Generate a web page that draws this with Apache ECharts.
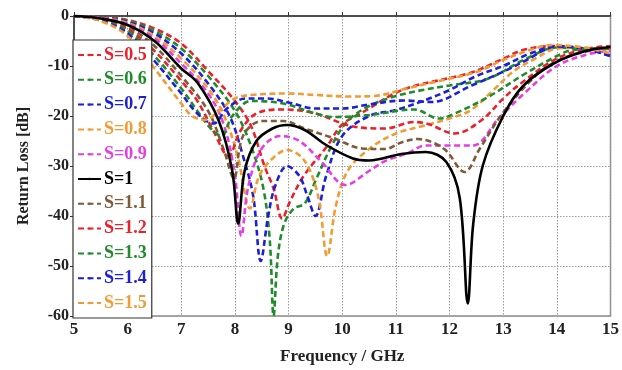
<!DOCTYPE html>
<html>
<head>
<meta charset="utf-8">
<script src="https://cdn.jsdelivr.net/npm/echarts@6/dist/echarts.min.js"></script>
<style>
  html, body { margin: 0; padding: 0; background: #fff; }
  #chart { width: 622px; height: 370px; }
</style>
</head>
<body>
<div id="chart"></div>
<script>
// x axis (GHz) and y axis (dB) ticks
const xTicks = [5, 15, 1];
const yTicks = [-60, 0, 10];

const seriesNames = ["S=0.5", "S=0.6", "S=0.7", "S=0.8", "S=0.9", "S=1", "S=1.1", "S=1.2", "S=1.3", "S=1.4", "S=1.5"];
const seriesColors = ["#e8212b", "#1e8c2a", "#1c1fd8", "#f39a32", "#e43fe0", "#000000", "#7d5b38", "#e8212b", "#1e8c2a", "#1c1fd8", "#f39a32"];

// [frequency GHz, return loss dB]
const s05 = [[5,0],[5.5,-0.2],[6,-0.8],[6.5,-2.5],[7,-5.5],[7.5,-11],[8,-17],[8.3,-22],[8.55,-30],[8.72,-34.5],[8.88,-40.5],[9.03,-37],[9.28,-32],[9.72,-26],[10,-21.7],[10.47,-18.7],[10.97,-15.5],[11.34,-14],[11.78,-12.9],[12.41,-11.3],[13.03,-8.4],[13.4,-6.7],[14,-6],[14.6,-6.5],[15,-6.1]];
const s06 = [[5,0],[5.5,-0.25],[6,-1],[6.5,-3],[7,-6.5],[7.5,-12],[8,-19],[8.3,-26],[8.53,-34.5],[8.65,-45],[8.72,-60],[8.8,-48],[8.92,-41.5],[9.1,-38.5],[9.3,-37.5],[9.5,-33],[9.8,-26],[10.1,-21],[10.5,-18],[11,-16],[11.5,-14.8],[12,-13.9],[12.7,-12.6],[13.4,-8.7],[14,-6.3],[14.5,-6.5],[15,-6.5]];
const s07 = [[5,0],[5.5,-0.3],[6,-1.2],[6.5,-3.5],[7,-7.5],[7.5,-13.5],[7.9,-20],[8.15,-28],[8.34,-36],[8.48,-49],[8.62,-40],[8.75,-34],[8.97,-30],[9.2,-32],[9.35,-36],[9.5,-40],[9.7,-32],[10,-24],[10.5,-20],[11,-18.8],[11.5,-17],[12,-14.8],[12.5,-12],[13,-10],[13.5,-7.5],[14,-6.1],[14.5,-6.5],[15,-8]];
const s08 = [[5,0],[5.5,-0.35],[6,-1.4],[6.5,-4],[7,-8.5],[7.5,-14.5],[7.8,-20],[8.05,-28],[8.28,-38.5],[8.45,-32],[8.7,-28.5],[8.97,-26.8],[9.3,-29],[9.55,-36],[9.72,-48],[9.88,-38],[10.1,-31],[10.5,-26.6],[11,-23.5],[11.5,-22],[12,-20.5],[12.4,-18.8],[12.8,-15],[13.2,-11],[13.6,-8.5],[14,-6.5],[14.5,-6.3],[15,-7.7]];
const s09 = [[5,0],[5.5,-0.4],[6,-1.6],[6.5,-4.5],[7,-9.5],[7.5,-15.5],[7.8,-22],[8,-32],[8.12,-44],[8.25,-34],[8.5,-26.5],[8.85,-24],[9.2,-25],[9.6,-29],[10.06,-33.8],[10.5,-31],[10.8,-29],[11.2,-27.5],[11.56,-25.9],[12,-25.9],[12.44,-25.9],[12.9,-20.7],[13.4,-15.4],[14,-10],[14.6,-7.6],[15,-7]];
const s10 = [[5,0],[5.5,-0.5],[6,-1.8],[6.5,-5],[7,-10.5],[7.3,-13.3],[7.7,-21],[7.95,-31],[8.06,-41.5],[8.18,-31],[8.4,-25],[8.7,-22.5],[8.97,-21.8],[9.3,-22.8],[9.7,-25.8],[10.2,-28.5],[10.5,-28.9],[11.1,-27.6],[11.56,-27.2],[11.94,-29.2],[12.19,-36.4],[12.34,-57.5],[12.44,-41.7],[12.62,-29.9],[13,-20],[13.37,-14],[13.94,-9.5],[14.5,-7.1],[15,-6.2]];
const s11 = [[5,0],[5.5,-0.6],[6,-2.2],[6.5,-6],[7,-12],[7.5,-19],[7.8,-27],[7.98,-32.5],[8.15,-24],[8.5,-21],[8.9,-21],[9.3,-22.5],[9.88,-24.6],[10.37,-26.5],[10.8,-26.6],[11.1,-25.3],[11.4,-24.6],[11.9,-26.6],[12.28,-31.2],[12.56,-26.6],[13,-19.3],[13.6,-12],[14,-9],[14.5,-7.2],[15,-6.5]];
const s12 = [[5,0],[5.5,-0.7],[6,-2.6],[6.5,-7],[7,-13],[7.3,-17],[7.6,-23],[7.88,-28],[8.1,-23],[8.4,-19.5],[8.9,-18.7],[9.5,-19.5],[10.16,-22],[10.8,-22.5],[11.34,-21.2],[11.6,-21.6],[12.1,-23.5],[12.6,-20.8],[13.03,-16.2],[13.4,-12.9],[14,-8.5],[14.6,-6.5],[15,-6]];
const s13 = [[5,0],[5.5,-0.8],[6,-3],[6.5,-8],[7,-14.5],[7.3,-19],[7.55,-22.5],[7.75,-24],[7.95,-20],[8.3,-17],[8.9,-17.5],[9.5,-19.5],[9.84,-20.2],[10.5,-19.8],[11.34,-18.7],[11.8,-20.5],[12.1,-19.5],[12.72,-16.2],[13.4,-11.6],[14,-8],[14.3,-6.8],[15,-6.5]];
const s14 = [[5,0],[5.5,-0.9],[6,-3.5],[6.5,-9],[7,-15.5],[7.3,-19.5],[7.6,-21.5],[7.85,-18.5],[8.2,-16.5],[8.6,-16.5],[9,-17.3],[9.5,-18.5],[10,-18.5],[10.5,-17.7],[11.16,-16.9],[11.66,-17.2],[12.41,-13.9],[13.03,-11],[13.4,-9],[14,-6.1],[14.5,-6.5],[15,-8]];
const s15 = [[5,0],[5.5,-1],[6,-4],[6.5,-10.5],[7,-17.5],[7.2,-20],[7.45,-20.8],[7.7,-19],[8,-16.5],[8.3,-15.8],[9,-15.5],[9.5,-15.8],[10.16,-16.1],[10.6,-16],[11.2,-14.5],[11.8,-13],[12.5,-11.2],[13,-8.8],[13.5,-6.8],[13.9,-5.8],[14.5,-6.3],[15,-7.5]];

const seriesData = [s05, s06, s07, s08, s09, s10, s11, s12, s13, s14, s15];

const font = '"Liberation Serif", "Times New Roman", serif';
const chart = echarts.init(document.getElementById("chart"), null, { renderer: "canvas" });

const series = seriesData.map((d, i) => ({
  name: seriesNames[i],
  type: "line",
  data: d,
  symbol: "none",
  smooth: 0.35,
  z: i === 5 ? 5 : 3,
  lineStyle: {
    color: seriesColors[i],
    width: 2.6,
    type: i === 5 ? "solid" : [6, 3.5]
  },
  itemStyle: { color: seriesColors[i] }
}));

chart.setOption({
  animation: false,
  grid: {
    left: 74, right: 9, top: 16, bottom: 51,
    show: true, borderColor: "#8a8a8a", borderWidth: 1.5
  },
  legend: {
    orient: "vertical",
    left: 73, top: 40,
    padding: [6, 5, 6, 4],
    itemGap: 6.8,
    itemWidth: 23, itemHeight: 3,
    backgroundColor: "#fff",
    borderColor: "#333", borderWidth: 1.2,
    data: seriesNames.map((n, i) => ({
      name: n,
      textStyle: { color: seriesColors[i] }
    })),
    textStyle: { fontFamily: font, fontWeight: "bold", fontSize: 18, padding: [0, 0, 0, -2] }
  },
  xAxis: {
    type: "value",
    min: xTicks[0], max: xTicks[1], interval: xTicks[2],
    name: "Frequency / GHz",
    nameLocation: "middle", nameGap: 32,
    nameTextStyle: { fontFamily: font, fontWeight: "bold", fontSize: 17, color: "#222" },
    axisLine: { lineStyle: { color: "#333", width: 1.5 } },
    axisTick: { inside: true, length: 4, lineStyle: { color: "#333" } },
    axisLabel: { fontFamily: font, fontWeight: "bold", fontSize: 17, color: "#222", margin: 5 },
    splitLine: { lineStyle: { color: "#9a9a9a", type: [1.5, 1.5] } }
  },
  yAxis: {
    type: "value",
    min: yTicks[0], max: yTicks[1], interval: yTicks[2],
    name: "Return Loss [dB]",
    nameLocation: "middle", nameGap: 42,
    nameTextStyle: { fontFamily: font, fontWeight: "bold", fontSize: 16, color: "#222" },
    axisLine: { lineStyle: { color: "#333", width: 1.5 } },
    axisTick: { inside: false, length: 4, lineStyle: { color: "#333" } },
    axisLabel: { fontFamily: font, fontWeight: "bold", fontSize: 16, color: "#222", margin: 5 },
    splitLine: { lineStyle: { color: "#9a9a9a", type: [1.5, 1.5] } }
  },
  series: series
});
</script>
</body>
</html>
